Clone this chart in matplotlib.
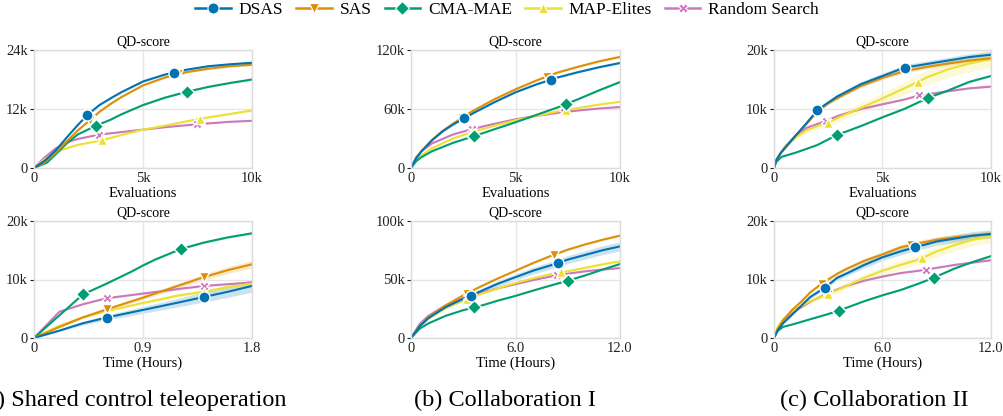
import matplotlib
matplotlib.use("Agg")
import matplotlib.pyplot as plt
from matplotlib.lines import Line2D
import numpy as np

plt.rcParams['font.family'] = ['Liberation Serif', 'DejaVu Serif']

# algorithms, colours and markers
algos = ["DSAS", "SAS", "CMA-MAE", "MAP-Elites", "Random Search"]
colors = ["#0173b2", "#de8f05", "#029e73", "#ece133", "#cc78bc"]
markers = ["o", "v", "D", "^", "X"]
msizes = [8, 7, 7, 7, 7]

# ---- shared control teleoperation, QD-score vs evaluations (thousands) ----
a_eval = {
    "DSAS": ([0, 0.5, 1, 1.5, 2, 2.45, 3, 3.6, 4, 5, 6, 7, 8, 9, 10],
             [0, 1.5, 3.6, 6.2, 8.7, 10.8, 12.8, 14.4, 15.4, 17.6, 19.0, 20.0, 20.7, 21.1, 21.4]),
    "SAS": ([0, 0.5, 1, 1.5, 2, 2.5, 3, 3.5, 4, 5, 6, 7, 8, 9, 10],
            [0, 1.2, 3.1, 5.4, 7.6, 9.5, 11.4, 13.0, 14.4, 16.8, 18.4, 19.5, 20.2, 20.7, 21.0]),
    "CMA-MAE": ([0, 0.6, 1, 1.5, 2, 2.84, 3.5, 4, 5, 6, 7, 8, 9, 10],
                [0, 1.1, 2.8, 5, 6.8, 8.6, 9.8, 10.9, 12.8, 14.3, 15.5, 16.5, 17.3, 18.0]),
    "MAP-Elites": ([0, 0.5, 1, 2, 3.1, 4, 5, 6, 7, 8, 9, 10],
                   [0, 1.8, 3.3, 4.7, 5.6, 6.7, 7.8, 8.6, 9.5, 10.3, 11.0, 11.7]),
    "Random Search": ([0, 0.5, 1, 1.5, 2, 3, 4, 5, 6, 7.5, 9, 10],
                      [0, 2.2, 4.0, 5.2, 5.9, 6.8, 7.3, 7.8, 8.3, 8.9, 9.4, 9.6]),
}
a_eval_marks = [[2.45, 6.4], [2.55, 6.6], [2.84, 7.0], [3.1, 7.6], [3.0, 7.5]]
a_eval_spread = [0.01, 0.01, 0.01, 0.02, 0.01]

# ---- collaboration I, QD-score vs evaluations ----
b_eval = {
    "DSAS": ([0, 0.25, 0.5, 1, 1.5, 2, 2.5, 3, 4, 5, 6, 7, 8, 9, 10],
             [0, 10, 17, 28, 37, 44, 50, 56, 67, 77, 85, 92, 97.5, 102.5, 106.8]),
    "SAS": ([0, 0.25, 0.5, 1, 1.5, 2, 2.5, 3, 4, 5, 6, 7, 8, 9, 10],
            [0, 10, 17, 28.5, 37.5, 45, 52, 58.5, 70, 80, 89, 97, 103, 108.5, 113]),
    "CMA-MAE": ([0, 0.25, 0.5, 1, 2, 3, 4, 5, 6, 7, 8, 9, 10],
                [0, 7, 11, 17, 25.5, 32.3, 39.5, 46.5, 54, 61.5, 70, 79, 87.4]),
    "MAP-Elites": ([0, 0.25, 0.5, 1, 2, 3, 4, 5, 6, 7, 8, 9, 10],
                   [0, 8, 13, 20, 30, 37, 43, 48.5, 53, 57.5, 61, 64.5, 67.3]),
    "Random Search": ([0, 0.25, 0.5, 1, 2, 3, 4, 5, 6, 7, 8, 9, 10],
                      [0, 11, 17, 25, 34, 40, 45, 49.5, 53, 56, 58.5, 60.5, 62]),
}
b_eval_marks = [[2.53, 6.7], [2.45, 6.5], [3.0, 7.4], [2.9, 7.4], [2.9, 7.3]]
b_eval_spread = [0.01, 0.01, 0.01, 0.01, 0.01]

# ---- collaboration II, QD-score vs evaluations ----
c_eval = {
    "DSAS": ([0, 0.1, 0.3, 0.6, 1, 1.5, 2, 2.5, 2.9, 4, 5, 6, 7, 8, 9, 10],
             [0, 1.3, 2.5, 3.8, 5.5, 7.6, 9.8, 11.1, 12.1, 14.2, 15.6, 17.0, 17.6, 18.2, 18.8, 19.2]),
    "SAS": ([0, 0.1, 0.3, 0.6, 1, 1.5, 2, 2.5, 3, 4, 5, 6, 7, 8, 9, 10],
            [0, 1.3, 2.5, 3.8, 5.5, 7.5, 9.6, 11.0, 12.0, 13.9, 15.3, 16.4, 17.1, 17.7, 18.2, 18.6]),
    "CMA-MAE": ([0, 0.1, 0.35, 1, 2, 2.9, 4, 5, 6, 7.1, 8, 9, 10],
                [0, 1.0, 1.9, 2.6, 3.9, 5.6, 7.1, 8.6, 10.0, 11.9, 13.1, 14.6, 15.6]),
    "MAP-Elites": ([0, 0.1, 0.5, 1, 1.5, 2, 2.5, 3, 4, 5, 6, 6.65, 7, 8, 9, 10],
                   [0, 1.3, 3.5, 5.2, 6.4, 7.1, 7.7, 8.6, 10.2, 11.8, 13.5, 14.6, 15.3, 16.7, 17.7, 18.5]),
    "Random Search": ([0, 0.1, 0.5, 1, 1.5, 2.4, 3, 4, 5, 6, 6.7, 8, 9, 10],
                      [0, 1.3, 3.6, 5.5, 6.8, 8.0, 8.9, 10.0, 10.8, 11.6, 12.3, 13.0, 13.5, 13.8]),
}
c_eval_marks = [[2.0, 6.05], [1.95, 6.0], [2.9, 7.1], [2.5, 6.65], [2.4, 6.7]]
c_eval_spread = [0.03, 0.02, 0.01, 0.08, 0.01]

# ---- shared control teleoperation, QD-score vs wall-clock hours ----
a_time = {
    "DSAS": ([0, 0.2, 0.4, 0.6, 0.9, 1.2, 1.4, 1.6, 1.8],
             [0, 1.2, 2.5, 3.5, 4.8, 6.1, 7.0, 7.9, 8.9]),
    "SAS": ([0, 0.2, 0.4, 0.6, 0.9, 1.2, 1.4, 1.6, 1.8],
            [0, 1.8, 3.5, 4.9, 6.9, 9.0, 10.4, 11.6, 12.6]),
    "CMA-MAE": ([0, 0.2, 0.405, 0.6, 0.8, 0.9, 1.0, 1.21, 1.4, 1.6, 1.8],
                [0, 3.7, 7.46, 9.3, 11.3, 12.4, 13.4, 15.2, 16.3, 17.2, 17.9]),
    "MAP-Elites": ([0, 0.2, 0.4, 0.6, 0.9, 1.2, 1.4, 1.6, 1.8],
                   [0, 2.0, 3.5, 4.6, 6.0, 7.3, 7.9, 8.7, 9.3]),
    "Random Search": ([0, 0.21, 0.4, 0.6, 0.9, 1.2, 1.4, 1.6, 1.8],
                      [0, 4.5, 5.75, 6.8, 7.6, 8.4, 8.9, 9.2, 9.5]),
}
a_time_marks = [[0.6, 1.4], [0.6, 1.4], [0.405, 1.21], [0.6, 1.4], [0.6, 1.4]]
a_time_spread = [0.12, 0.05, 0.01, 0.04, 0.02]

# ---- collaboration I, QD-score vs hours ----
b_time = {
    "DSAS": ([0, 0.5, 1, 2, 3, 4, 5, 6, 7, 8, 9, 10, 11, 12],
             [0, 10, 17, 26.5, 33.5, 40, 46.5, 52, 57.5, 62, 67, 71, 75, 78.3]),
    "SAS": ([0, 0.5, 1, 2, 3, 4, 5, 6, 7, 8, 9, 10, 11, 12],
            [0, 10.5, 17.5, 28, 36.5, 44, 51, 57.5, 64, 70, 75.5, 80, 84, 87.5]),
    "CMA-MAE": ([0, 0.5, 1, 2, 3, 4, 5, 6, 7, 8, 9, 10, 11, 12],
                [0, 8, 12.5, 19, 23.8, 27.5, 32, 36, 40.5, 44.8, 49, 53.5, 58.5, 63.2]),
    "MAP-Elites": ([0, 0.5, 1, 2, 3, 4, 5, 6, 7, 8, 9, 10, 11, 12],
                   [0, 10, 16.5, 25.5, 32, 37.5, 42.5, 47, 51, 54.5, 57, 60, 63, 65.5]),
    "Random Search": ([0, 0.5, 1, 2, 3, 4, 5, 6, 7, 8, 9, 10, 11, 12],
                      [0, 12, 19, 28, 34, 38.5, 42.5, 46, 49.5, 52.5, 55, 57, 58.5, 59.8]),
}
b_time_marks = [[3.43, 8.43], [3.2, 8.2], [3.62, 9.0], [3.2, 8.6], [3.3, 8.4]]
b_time_spread = [0.05, 0.01, 0.01, 0.02, 0.01]

# ---- collaboration II, QD-score vs hours ----
c_time = {
    "DSAS": ([0, 0.2, 0.5, 1, 1.5, 2, 2.8, 3.5, 4, 5, 6, 7, 7.8, 9, 10, 11, 12],
             [0, 1.3, 2.5, 4, 5.5, 7, 8.6, 10.3, 11, 12.5, 13.8, 14.8, 15.5, 16.5, 17, 17.5, 17.8]),
    "SAS": ([0, 0.2, 0.5, 1, 1.5, 2, 2.64, 3.5, 4, 5, 6, 7, 8, 9, 10, 11, 12],
            [0, 1.5, 3, 4.8, 6.2, 7.8, 9.3, 11, 11.8, 13.2, 14.3, 15.5, 16.2, 16.8, 17.2, 17.5, 17.7]),
    "CMA-MAE": ([0, 0.2, 0.5, 1, 2, 3, 3.6, 5, 6, 7, 8, 8.83, 10, 11, 12],
                [0, 1.2, 1.9, 2.3, 3.2, 4.1, 4.7, 6.3, 7.3, 8.2, 9.3, 10.3, 11.9, 13, 14]),
    "MAP-Elites": ([0, 0.2, 0.5, 1, 2, 3, 4, 5, 6, 7, 8, 9, 10, 11, 12],
                   [0, 1.8, 3.2, 4.6, 6.3, 7.5, 8.9, 10.3, 11.5, 12.5, 13.4, 14.8, 15.9, 16.8, 17.4]),
    "Random Search": ([0, 0.2, 0.5, 1, 2, 3, 4, 5, 6, 7, 8, 9, 10, 11, 12],
                      [0, 1.6, 3, 4.3, 6.2, 7.7, 8.9, 9.8, 10.5, 11.1, 11.5, 12, 12.5, 12.9, 13.3]),
}
c_time_marks = [[2.8, 7.8], [2.64, 7.6], [3.6, 8.83], [3.0, 8.2], [3.0, 8.4]]
c_time_spread = [0.04, 0.03, 0.01, 0.06, 0.01]

captions = ["(a) Shared control teleoperation", "(b) Collaboration I", "(c) Collaboration II"]

fig = plt.figure(figsize=(10.04, 4.16), dpi=100)

# axes boxes in pixels: left, right (columns) and top, bottom (rows)
cols = [(34, 252), (411, 620), (774, 991)]
rows = [(50, 168), (221, 338)]
W, H = 1004, 416


def k_fmt(v):
    return "0" if v == 0 else f"{v:g}k"


def draw_panel(ax, data, marks, spread, xlim, xticks, xticklabels, ylim, yticks, xlabel):
    for i in reversed(range(len(algos))):
        name = algos[i]
        x, y = np.array(data[name][0], float), np.array(data[name][1], float)
        ax.fill_between(x, y * (1 - spread[i]), y * (1 + spread[i]),
                        color=colors[i], alpha=0.2, lw=0, zorder=1)
        ax.plot(x, y, color=colors[i], lw=1.5, zorder=2 + (5 - i) * 0.1)
        mx = np.array(marks[i])
        my = np.interp(mx, x, y)
        ax.plot(mx, my, ls="none", marker=markers[i], ms=msizes[i], color=colors[i],
                mec="white", mew=1.0, zorder=3 + (5 - i) * 0.1)
    ax.set_xlim(*xlim)
    ax.set_ylim(*ylim)
    ax.set_xticks(xticks)
    ax.set_xticklabels(xticklabels)
    ax.set_yticks(yticks)
    ax.set_yticklabels([k_fmt(v) for v in yticks])
    ax.grid(True, color="#e6e6e6", lw=1.0, zorder=0)
    for s in ax.spines.values():
        s.set_color("#dcdcdc")
        s.set_linewidth(1.0)
    ax.tick_params(axis="both", labelsize=10.5, length=3, width=0.8, pad=1.5,
                   colors="#222222")
    ax.tick_params(axis="x", length=0, pad=3)
    ax.set_title("QD-score", fontsize=10, pad=3)
    ax.set_xlabel(xlabel, fontsize=10.5, labelpad=1)


top_data = [(a_eval, a_eval_marks, a_eval_spread, (0, 24), [0, 12, 24]),
            (b_eval, b_eval_marks, b_eval_spread, (0, 120), [0, 60, 120]),
            (c_eval, c_eval_marks, c_eval_spread, (0, 20), [0, 10, 20])]
bot_data = [(a_time, a_time_marks, a_time_spread, (0, 1.8), [0, 0.9, 1.8], ["0", "0.9", "1.8"], (0, 20), [0, 10, 20]),
            (b_time, b_time_marks, b_time_spread, (0, 12), [0, 6, 12], ["0", "6.0", "12.0"], (0, 100), [0, 50, 100]),
            (c_time, c_time_marks, c_time_spread, (0, 12), [0, 6, 12], ["0", "6.0", "12.0"], (0, 20), [0, 10, 20])]

for c in range(3):
    l, r = cols[c]
    t, b = rows[0]
    ax = fig.add_axes([l / W, 1 - b / H, (r - l) / W, (b - t) / H])
    d, m, sp, yl, yt = top_data[c]
    draw_panel(ax, d, m, sp, (0, 10), [0, 5, 10], ["0", "5k", "10k"], yl, yt, "Evaluations")

    t, b = rows[1]
    ax = fig.add_axes([l / W, 1 - b / H, (r - l) / W, (b - t) / H])
    d, m, sp, xl, xt, xtl, yl, yt = bot_data[c]
    draw_panel(ax, d, m, sp, xl, xt, xtl, yl, yt, "Time (Hours)")

# sub-figure captions
for c, x in enumerate([132, 505, 874]):
    fig.text(x / W, 1 - 400 / H, captions[c], ha="center", va="center", fontsize=17.5)

# shared legend on top
handles = [Line2D([], [], color=colors[i], lw=1.8, marker=markers[i], ms=msizes[i],
                  mec="white", mew=0.8) for i in range(len(algos))]
fig.legend(handles, algos, loc="center", bbox_to_anchor=(507 / W, 1 - 10 / H), ncol=5,
           frameon=False, fontsize=12.5, handlelength=2.05, handletextpad=0.45,
           columnspacing=0.75, borderaxespad=0)

fig.savefig("out.png", dpi=100)
